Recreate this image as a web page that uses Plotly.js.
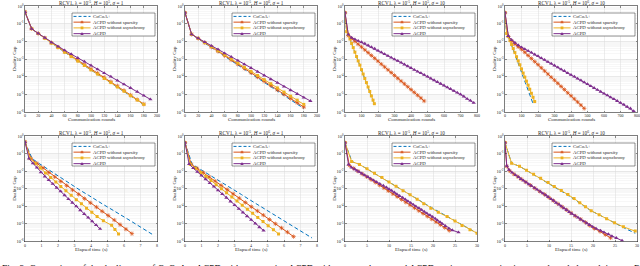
<!DOCTYPE html>
<html><head><meta charset="utf-8">
<script src="https://cdn.plot.ly/plotly-3.0.1.min.js"></script>
<style>html,body{margin:0;padding:0;background:#fff;overflow:hidden}#chart{width:640px;height:266px}</style>
</head><body><div id="chart"></div>
<script>
// ---------------- data ----------------
const seriesNames = ['CoCoA+', 'ACPD without sparsity', 'ACPD without asynchrony', 'ACPD'];
const panelTitles = [
  'RCV1, λ = 10<sup>-5</sup>, <i>H</i> = 10<sup>5</sup>, <i>σ</i> = 1',
  'RCV1, λ = 10<sup>-5</sup>, <i>H</i> = 10<sup>6</sup>, <i>σ</i> = 1',
  'RCV1, λ = 10<sup>-5</sup>, <i>H</i> = 10<sup>5</sup>, <i>σ</i> = 10',
  'RCV1, λ = 10<sup>-5</sup>, <i>H</i> = 10<sup>6</sup>, <i>σ</i> = 10'
];
const xTitleTop = 'Communication rounds';
const xTitleBottom = 'Elapsed time (s)';
const yTitle = 'Duality Gap';
const yTickVals = [1, 1e-1, 1e-2, 1e-3, 1e-4, 1e-5, 1e-6];
const yTickText = ['10<sup>0</sup>', '10<sup>-1</sup>', '10<sup>-2</sup>', '10<sup>-3</sup>', '10<sup>-4</sup>', '10<sup>-5</sup>', '10<sup>-6</sup>'];
const captionText = 'Fig. 3: Comparison of the duality gap of CoCoA+, ACPD without sparsity, ACPD without asynchrony and ACPD against communication rounds and elapsed time on RCV1.';

const roundsTo170 = [0,10,20,30,40,50,60,70,80,90,100,110,120,130,140,150,160,170];
const roundsTo180 = [0,10,20,30,40,50,60,70,80,90,100,110,120,130,140,150,160,170,180];
const roundsTo190 = [0,10,20,30,40,50,60,70,80,90,100,110,120,130,140,150,160,170,180,190];
const roundsYellow3 = [0,10,20,30,40,50,60,70,80,90,100,110,120,130,140,150,160,170,178];
const roundsBlue3 = [0,10,20,30,40,50,60,70,80,90,100,110,120,130,140,150,160,170,176];
const roundsTo480 = [0,20,40,60,80,100,120,140,160,180,200,220,240,260,280,300,320,340,360,380,400,420,440,460,480];
const roundsTo780 = [0,20,40,60,80,100,120,140,160,180,200,220,240,260,280,300,320,340,360,380,400,420,440,460,480,500,520,540,560,580,600,620,640,660,680,700,720,740,760,780];

// column 1 : H = 1e5, sigma = 1
const gap1Blue = [4.6e-1,5.2e-2,2.75e-2,1.48e-2,7.9e-3,4.3e-3,2.3e-3,1.32e-3,7.4e-4,4.2e-4,2.3e-4,1.35e-4,7.8e-5,4.5e-5,2.6e-5,1.45e-5,8.1e-6,4.7e-6,2.6e-6];
const gap1Red = [4.6e-1,5.2e-2,2.8e-2,1.55e-2,8.3e-3,4.7e-3,2.6e-3,1.5e-3,8.5e-4,4.8e-4,2.75e-4,1.58e-4,9.1e-5,5.2e-5,3.0e-5,1.66e-5,9.1e-6,5.0e-6,2.8e-6];
const gap1Yellow = [4.6e-1,5.2e-2,2.75e-2,1.5e-2,7.9e-3,4.4e-3,2.4e-3,1.35e-3,7.6e-4,4.3e-4,2.4e-4,1.4e-4,7.9e-5,4.6e-5,2.6e-5,1.5e-5,8.3e-6,4.8e-6,2.7e-6];
const gap1Purple = [4.6e-1,5.2e-2,2.8e-2,1.6e-2,8.5e-3,5.0e-3,3.1e-3,1.9e-3,1.15e-3,7.1e-4,4.3e-4,2.6e-4,1.6e-4,1.0e-4,6.0e-5,3.7e-5,2.3e-5,1.4e-5,8.5e-6,5.2e-6];
const time1Blue = [0,0.43,0.85,1.28,1.72,2.14,2.57,2.99,3.42,3.86,4.28,4.70,5.13,5.57,5.99,6.42,6.85,7.27,7.70];
const time1Red = [0,0.36,0.72,1.09,1.44,1.80,2.17,2.52,2.88,3.25,3.60,3.96,4.33,4.68,5.04,5.41,5.76,6.12,6.48];
const time1Yellow = [0,0.30,0.62,0.93,1.24,1.55,1.87,2.17,2.48,2.80,3.11,3.42,3.73,4.05,4.37,4.75,5.25,5.45,5.67];
const time1Purple = [0,0.24,0.48,0.72,0.96,1.20,1.44,1.68,1.92,2.16,2.40,2.63,2.87,3.11,3.35,3.59,3.83,4.07,4.31,4.55];

// column 2 : H = 1e6, sigma = 1
const gap2Blue = [4.2e-1,2.5e-2,1.41e-2,8.1e-3,4.6e-3,2.6e-3,1.45e-3,8.3e-4,4.7e-4,2.6e-4,1.48e-4,8.5e-5,4.8e-5,2.7e-5,1.5e-5,8.7e-6,4.9e-6,2.75e-6,1.58e-6];
const gap2Red = [4.2e-1,2.5e-2,1.45e-2,8.3e-3,4.7e-3,2.7e-3,1.55e-3,8.9e-4,5.1e-4,2.9e-4,1.66e-4,9.5e-5,5.5e-5,3.16e-5,1.78e-5,1.02e-5,5.9e-6,3.4e-6,1.9e-6];
const gap2Yellow = [4.2e-1,2.5e-2,1.48e-2,8.5e-3,5.0e-3,2.95e-3,1.7e-3,1.0e-3,5.9e-4,3.4e-4,2.0e-4,1.17e-4,6.8e-5,4.0e-5,2.3e-5,1.35e-5,7.9e-6,4.7e-6,2.7e-6];
const gap2Purple = [4.2e-1,2.5e-2,1.48e-2,9.1e-3,5.6e-3,3.5e-3,2.1e-3,1.32e-3,8.1e-4,5.0e-4,3.1e-4,1.9e-4,1.17e-4,7.2e-5,4.5e-5,2.75e-5,1.7e-5,1.05e-5,6.5e-6,4.2e-6];
const time2Blue = [0,0.43,0.85,1.28,1.71,2.14,2.56,2.99,3.42,3.85,4.27,4.70,5.13,5.56,5.98,6.41,6.84,7.27,7.70];
const time2Red = [0,0.37,0.73,1.10,1.46,1.83,2.19,2.56,2.92,3.29,3.66,4.02,4.39,4.75,5.12,5.48,5.85,6.21,6.58];
const time2Yellow = [0,0.32,0.63,0.95,1.26,1.58,1.89,2.21,2.52,2.84,3.15,3.47,3.78,4.10,4.41,4.73,5.04,5.36,5.67];
const time2Purple = [0,0.25,0.50,0.75,1.00,1.25,1.50,1.75,2.00,2.26,2.51,2.76,3.01,3.26,3.51,3.76,4.01,4.26,4.51,4.76];

// column 3 : H = 1e5, sigma = 10
const gap3Blue = [4.2e-1,3.5e-2,2.35e-2,1.32e-2,7.4e-3,4.3e-3,2.4e-3,1.35e-3,7.6e-4,4.4e-4,2.45e-4,1.38e-4,7.7e-5,4.5e-5,2.5e-5,1.4e-5,7.9e-6,4.5e-6,3.0e-6];
const gap3Red = [4.2e-1,2.1e-2,1.45e-2,1.0e-2,6.9e-3,4.8e-3,3.3e-3,2.3e-3,1.58e-3,1.1e-3,7.6e-4,5.1e-4,3.55e-4,2.45e-4,1.7e-4,1.17e-4,8.1e-5,5.6e-5,3.9e-5,2.7e-5,1.86e-5,1.29e-5,8.9e-6,6.2e-6,4.2e-6];
const gap3Yellow = [4.2e-1,3.55e-2,2.4e-2,1.35e-2,7.6e-3,4.4e-3,2.45e-3,1.38e-3,7.8e-4,4.5e-4,2.5e-4,1.41e-4,7.9e-5,4.6e-5,2.6e-5,1.45e-5,8.1e-6,4.7e-6,2.95e-6];
const gap3Purple = [4.2e-1,2.4e-2,1.6e-2,1.29e-2,1.07e-2,9.1e-3,7.4e-3,5.9e-3,4.7e-3,3.8e-3,3.0e-3,2.4e-3,1.9e-3,1.5e-3,1.2e-3,9.5e-4,7.8e-4,6.2e-4,4.9e-4,3.9e-4,3.1e-4,2.45e-4,1.95e-4,1.58e-4,1.26e-4,1.0e-4,7.9e-5,6.3e-5,5.0e-5,4.0e-5,3.16e-5,2.5e-5,2.0e-5,1.58e-5,1.26e-5,1.0e-5,7.6e-6,5.5e-6,4.4e-6,3.3e-6];
const time3Blue = [0,1.6,3.4,5.1,6.8,8.5,10.2,11.8,13.4,15.0,16.6,18.2,19.9,21.6,23.4,25.2,27.0,28.8,30.0];
const time3Red = [0,1.0,1.98,2.96,3.94,4.93,5.91,6.89,7.87,8.85,9.83,10.88,11.86,12.84,13.82,14.80,15.79,16.77,17.75,18.73,19.71,20.69,21.67,22.65,23.69];
const time3Yellow = [0,1.5,3.3,5.0,6.7,8.4,10.0,11.6,13.2,14.8,16.4,17.9,19.5,21.2,23.2,25.0,26.6,28.4,30.0];
const time3Purple = [0,0.8,1.5,2.2,2.7,3.2,3.8,4.5,5.2,5.8,6.5,7.2,7.9,8.7,9.4,10.0,10.6,11.2,11.8,12.4,13.1,13.7,14.3,14.9,15.5,16.1,16.8,17.4,18.0,18.6,19.3,19.9,20.5,21.0,21.6,22.1,22.8,23.6,24.4,25.8];

// column 4 : H = 1e6, sigma = 10
const gap4Blue = [4.2e-1,2.8e-2,1.9e-2,1.07e-2,5.9e-3,3.3e-3,1.86e-3,1.02e-3,5.75e-4,3.16e-4,1.78e-4,1.0e-4,5.5e-5,3.1e-5,1.7e-5,9.5e-6,5.4e-6,2.95e-6];
const gap4Red = [4.2e-1,1.9e-2,1.05e-2,6.9e-3,4.9e-3,3.55e-3,2.4e-3,1.58e-3,1.07e-3,7.1e-4,4.8e-4,3.16e-4,2.1e-4,1.41e-4,9.3e-5,6.3e-5,4.2e-5,2.8e-5,1.86e-5,1.23e-5,8.3e-6,5.5e-6,3.7e-6,2.45e-6,1.6e-6];
const gap4Yellow = [4.2e-1,2.8e-2,1.9e-2,1.12e-2,6.6e-3,3.9e-3,2.3e-3,1.35e-3,7.9e-4,4.7e-4,2.75e-4,1.6e-4,9.5e-5,5.6e-5,3.3e-5,1.95e-5,1.15e-5,6.8e-6,3.9e-6];
const gap4Purple = [4.2e-1,2.0e-2,1.2e-2,8.3e-3,6.0e-3,4.6e-3,3.6e-3,2.9e-3,2.3e-3,1.8e-3,1.45e-3,1.12e-3,8.9e-4,6.9e-4,5.5e-4,4.3e-4,3.4e-4,2.6e-4,2.1e-4,1.6e-4,1.26e-4,1.0e-4,7.8e-5,6.2e-5,4.8e-5,3.8e-5,2.95e-5,2.3e-5,1.8e-5,1.41e-5,1.1e-5,8.7e-6,6.8e-6,5.4e-6,4.2e-6,3.3e-6,2.6e-6,2.0e-6,1.58e-6,1.12e-6];
const time4Blue = [0,1.5,3.3,5.0,6.8,8.5,10.2,11.9,13.5,15.1,16.6,18.0,19.6,21.6,23.5,25.4,27.4,29.6];
const time4Red = [0,0.4,1.05,2.0,2.9,3.7,4.7,5.8,6.8,7.9,9.0,10.0,11.0,12.0,13.0,14.0,15.0,16.0,17.2,18.3,19.2,20.3,21.6,22.8,24.0];
const time4Yellow = [0,1.5,3.3,4.9,6.5,8.1,9.8,11.2,12.8,14.3,15.7,17.0,18.3,19.6,21.4,23.1,24.9,26.9,29.6];
const time4Purple = [0,0.4,0.9,1.6,2.4,3.1,3.6,4.2,4.8,5.4,6.0,6.7,7.3,8.0,8.6,9.3,9.8,10.5,11.0,11.6,12.3,12.8,13.4,14.0,14.6,15.2,15.9,16.6,17.2,17.9,18.6,19.2,19.9,20.7,21.7,22.5,23.5,24.3,25.3,26.6];

// ---------------- assembly ----------------
const columns = [
  [[roundsTo180,time1Blue,gap1Blue],[roundsTo180,time1Red,gap1Red],[roundsTo180,time1Yellow,gap1Yellow],[roundsTo190,time1Purple,gap1Purple]],
  [[roundsTo180,time2Blue,gap2Blue],[roundsTo180,time2Red,gap2Red],[roundsTo180,time2Yellow,gap2Yellow],[roundsTo190,time2Purple,gap2Purple]],
  [[roundsBlue3,time3Blue,gap3Blue],[roundsTo480,time3Red,gap3Red],[roundsYellow3,time3Yellow,gap3Yellow],[roundsTo780,time3Purple,gap3Purple]],
  [[roundsTo170,time4Blue,gap4Blue],[roundsTo480,time4Red,gap4Red],[roundsTo180,time4Yellow,gap4Yellow],[roundsTo780,time4Purple,gap4Purple]]
];

const FONT = '"Liberation Serif","Times New Roman",serif';
const INK = '#262626';
const W = 640, H = 266;
const X = p => p / W, Y = p => 1 - p / H;
const colPx = [[25,157],[185,317],[345,477],[505,637]];
const rowPx = [[6,112],[136,241.5]];
const xRanges = [[[0,200],20],[[0,200],20],[[0,800],100],[[0,800],100]];
const xRangesT = [[[0,8],1],[[0,8],1],[[0,30],5],[[0,30],5]];
const styles = [
  {color:'#0072BD', dash:'4px,2.5px', symbol:null},
  {color:'#D95319', dash:'solid', symbol:'asterisk-open', size:3.6},
  {color:'#EDB120', dash:'solid', symbol:'square', size:3},
  {color:'#7E2F8E', dash:'solid', symbol:'triangle-up', size:3.8}
];

const axisBase = {
  showline:true, mirror:'ticks', linecolor:INK, linewidth:0.6,
  ticks:'inside', ticklen:1.5, tickwidth:0.5, tickcolor:INK,
  showgrid:true, gridcolor:'#dcdcdc', gridwidth:0.5, zeroline:false,
  tickfont:{family:FONT, size:4, color:INK}, fixedrange:true
};

const traces = [];
const layout = {
  width:W, height:H, margin:{l:0,r:0,t:0,b:0,autoexpand:false},
  paper_bgcolor:'#fff', plot_bgcolor:'#fff', showlegend:false,
  font:{family:FONT, color:INK}, annotations:[], shapes:[]
};

for (let r = 0; r < 2; r++) {
  for (let c = 0; c < 4; c++) {
    const k = r * 4 + c + 1;
    const sfx = k === 1 ? '' : String(k);
    const [L, R] = colPx[c], [T, B] = rowPx[r];
    const xr = r === 0 ? xRanges[c] : xRangesT[c];
    layout['xaxis' + sfx] = Object.assign({}, axisBase, {
      domain:[X(L), X(R)], anchor:'y' + sfx, range:xr[0], tick0:0, dtick:xr[1]
    });
    layout['yaxis' + sfx] = Object.assign({}, axisBase, {
      domain:[Y(B), Y(T)], anchor:'x' + sfx, type:'log', range:[-6, 0],
      tickmode:'array', tickvals:yTickVals, ticktext:yTickText,
      tickfont:{family:FONT, size:4.5, color:INK},
      minor:{dtick:'D1', showgrid:true, gridcolor:'#efefef', gridwidth:0.5, ticks:''}
    });
    columns[c].forEach((ser, s) => {
      const st = styles[s];
      const tr = {
        type:'scatter', x: r === 0 ? ser[0] : ser[1], y: ser[2],
        xaxis:'x' + sfx, yaxis:'y' + sfx, name:seriesNames[s], hoverinfo:'skip',
        mode: st.symbol ? 'lines+markers' : 'lines',
        line:{color:st.color, width:1, dash:st.dash}
      };
      if (st.symbol) tr.marker = {symbol:st.symbol, size:st.size, color:st.color,
        line:{color:st.color, width: st.symbol === 'asterisk-open' ? 0.7 : 0}};
      traces.push(tr);
    });
    // titles
    layout.annotations.push({xref:'paper', yref:'paper', x:X((L+R)/2), y:Y(T-3), xanchor:'center', yanchor:'middle',
      text:panelTitles[c], showarrow:false, font:{family:FONT, size:5.2, color:INK}});
    layout.annotations.push({xref:'paper', yref:'paper', x:X((L+R)/2), y:Y(r === 0 ? 119.5 : 249), xanchor:'center', yanchor:'middle',
      text: r === 0 ? xTitleTop : xTitleBottom, showarrow:false, font:{family:FONT, size:5, color:INK}});
    layout.annotations.push({xref:'paper', yref:'paper', x:X(L-10), y:Y((T+B)/2), xanchor:'center', yanchor:'middle', textangle:-90,
      text:yTitle, showarrow:false, font:{family:FONT, size:5, color:INK}});
    // legend box
    const bx0 = L + 47, bx1 = L + 130, by0 = T + 7, by1 = T + 30;
    layout.shapes.push({type:'rect', xref:'paper', yref:'paper', x0:X(bx0), x1:X(bx1), y0:Y(by1), y1:Y(by0),
      line:{color:INK, width:0.5}, fillcolor:'#fff', layer:'above'});
    seriesNames.forEach((nm, s) => {
      const st = styles[s];
      const cy = T + 10.4 + s * 5.75;
      const lx0 = bx0 + 1.5, lx1 = bx0 + 18.5, mx = (lx0 + lx1) / 2;
      layout.shapes.push({type:'line', xref:'paper', yref:'paper', x0:X(lx0), x1:X(lx1), y0:Y(cy), y1:Y(cy),
        line:{color:st.color, width:1, dash: s === 0 ? '3px,2px' : 'solid'}, layer:'above'});
      if (st.symbol === 'square') {
        layout.shapes.push({type:'rect', xref:'paper', yref:'paper', x0:X(mx-1.4), x1:X(mx+1.4), y0:Y(cy+1.4), y1:Y(cy-1.4),
          line:{width:0}, fillcolor:st.color, layer:'above'});
      } else if (st.symbol === 'triangle-up') {
        layout.shapes.push({type:'path', xref:'paper', yref:'paper',
          path:`M${X(mx-1.7)},${Y(cy+1.3)} L${X(mx+1.7)},${Y(cy+1.3)} L${X(mx)},${Y(cy-1.6)} Z`,
          line:{width:0}, fillcolor:st.color, layer:'above'});
      } else if (st.symbol === 'asterisk-open') {
        const a = 1.6, b = 1.15;
        layout.shapes.push({type:'path', xref:'paper', yref:'paper',
          path:`M${X(mx-a)},${Y(cy)} L${X(mx+a)},${Y(cy)} M${X(mx)},${Y(cy-a)} L${X(mx)},${Y(cy+a)} M${X(mx-b)},${Y(cy-b)} L${X(mx+b)},${Y(cy+b)} M${X(mx-b)},${Y(cy+b)} L${X(mx+b)},${Y(cy-b)}`,
          line:{color:st.color, width:0.6}, layer:'above'});
      }
      layout.annotations.push({xref:'paper', yref:'paper', x:X(lx1 + 0.8), y:Y(cy), xanchor:'left', yanchor:'middle',
        text:nm, showarrow:false, font:{family:FONT, size:4.8, color:INK}});
    });
  }
}
// caption (cut by the bottom edge like the reference)
layout.annotations.push({xref:'paper', yref:'paper', x:X(0), y:Y(261.5), xanchor:'left', yanchor:'top',
  text:captionText, showarrow:false, font:{family:FONT, size:9.5, color:'#111'}});

Plotly.newPlot('chart', traces, layout, {staticPlot:true, displayModeBar:false});
</script></body></html>
